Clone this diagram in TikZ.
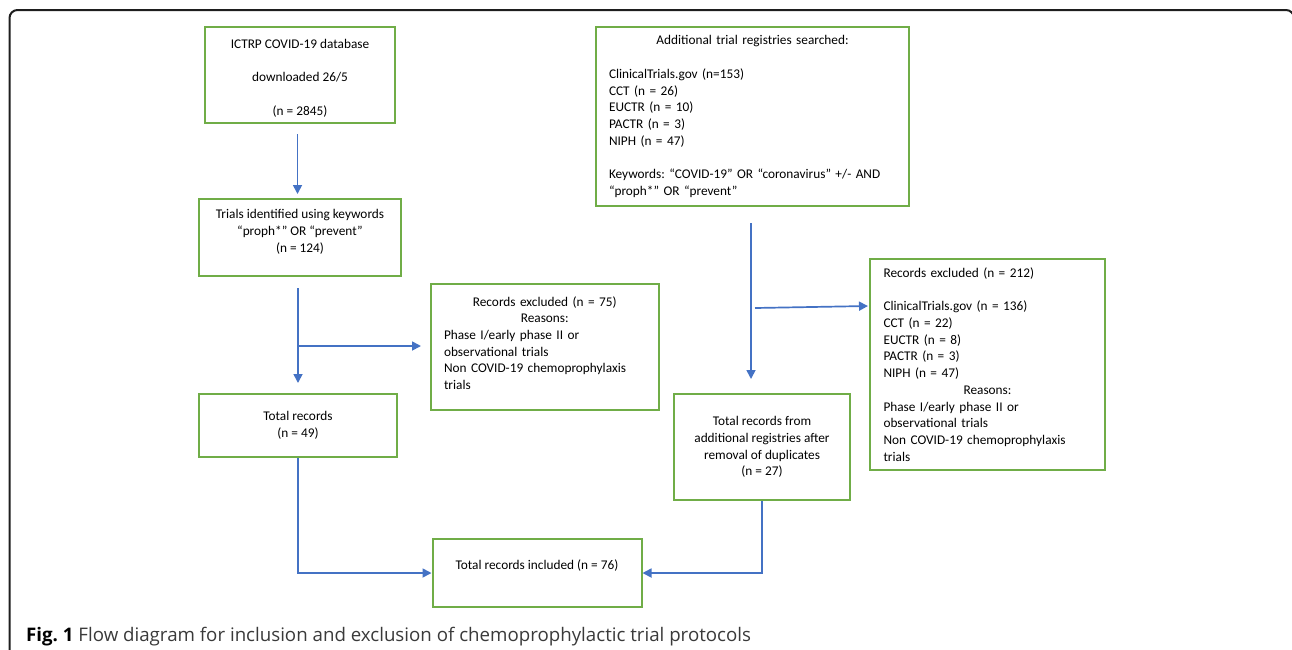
\documentclass[tikz,border=0pt]{standalone}
\usepackage{fontspec}
\setmainfont{Carlito}
\newfontfamily\capfont{Open Sans}
\usetikzlibrary{arrows.meta,calc}
\definecolor{boxgreen}{HTML}{70AD47}
\definecolor{arrblue}{HTML}{4472C4}
\definecolor{framecol}{HTML}{1E1E1E}
\definecolor{capgray}{HTML}{3A3A3A}
\newcommand{\cl}[1]{\leavevmode\hbox to \hsize{\hfil #1\hfil}}
\frenchspacing
\begin{document}
\begin{tikzpicture}[x=1pt,y=-1pt,
  box/.style={draw=boxgreen,line width=2pt,inner sep=0pt,align=center,
    font=\fontsize{13.3}{16.7}\selectfont},
  lbox/.style={box,align=left,inner xsep=13pt},
  arr/.style={draw=arrblue,line width=1.7pt,-{Triangle[length=9pt,width=9pt]}}]
\useasboundingbox (0,0) rectangle (1292,649);
% frame
\draw[line width=2pt,framecol] (9.5,700) -- (9.5,18) arc[start angle=180,end angle=270,radius=8] -- (1286,10) arc[start angle=270,end angle=360,radius=8] -- (1294,700);
% boxes
\node[box,minimum width=190pt,minimum height=96pt] (ictrp) at (300,75)
  {\mbox{}\\[-1pt]ICTRP COVID-19 database\\[17pt]downloaded 26/5\\[17pt](n = 2845)};
\node[box,minimum width=202pt,minimum height=77pt] (trials) at (300,237.5)
  {Trials identified using keywords\\“proph*” OR “prevent”\\(n = 124)\\[-3.7pt]\mbox{}};
\node[lbox,text width=201.5pt,minimum height=126pt] (r75) at (544.75,347)
  {\cl{Records excluded (n = 75)}\\\cl{Reasons:}\\Phase I/early phase II or\\observational trials\\Non COVID-19 chemoprophylaxis\\trials\\[-8.5pt]\mbox{}};
\node[box,minimum width=198pt,minimum height=63pt] (total) at (298,425.5)
  {Total records\\(n = 49)};
\node[box,minimum width=209pt,minimum height=68pt] (incl) at (537,573)
  {Total records included (n = 76)\\\mbox{}};
\node[lbox,text width=287pt,minimum height=179pt] (add) at (752.5,116.5)
  {\cl{Additional trial registries searched:}\\[16.7pt]ClinicalTrials.gov (n=153)\\CCT (n = 26)\\EUCTR (n = 10)\\PACTR (n = 3)\\NIPH (n = 47)\\[16.7pt]Keywords: “COVID-19” OR “coronavirus” +/- AND\\“proph*” OR “prevent”};
\node[lbox,inner xsep=13.5pt,text width=208pt,minimum height=211pt] (r212) at (987.5,364.5)
  {Records excluded (n = 212)\\[16.7pt]ClinicalTrials.gov (n = 136)\\CCT (n = 22)\\EUCTR (n = 8)\\PACTR (n = 3)\\NIPH (n = 47)\\\cl{Reasons:}\\Phase I/early phase II or\\observational trials\\Non COVID-19 chemoprophylaxis\\trials};
\node[box,minimum width=176pt,minimum height=106pt] (tadd) at (762,447)
  {Total records from\\additional registries after\\removal of duplicates\\(n = 27)};
% caption
\node[anchor=base west,inner sep=0pt,text=capgray,font=\capfont\fontsize{18.7}{22}\selectfont] (cap) at (26,641)
  {{\color{black}\bfseries Fig. 1} Flow diagram for inclusion and exclusion of chemoprophylactic trial protocols};
% connectors
\draw[arr] ($(ictrp.south)+(-2.5,10)$) -- ($(trials.north)+(-2.5,-4)$);
\coordinate (j1) at (298,346);
\draw[arr] ($(trials.south)+(-2,11)$) -- ($(total.north)+(0,-10)$);
\draw[arr] (j1) -- ($(r75.west|-j1)+(-9,0)$);
\draw[arr] ($(add.south)+(-1.5,16)$) -- ($(add.south|-tadd.north)+(-1.5,-14)$);
\coordinate (j2) at (755,308);
\draw[arr] (j2) -- ($(r212.west)+(-1,-58.5)$);
\draw[arr] (total.south) |- (incl.west);
\draw[arr] (tadd.south) |- (incl.east);
\end{tikzpicture}
\end{document}
